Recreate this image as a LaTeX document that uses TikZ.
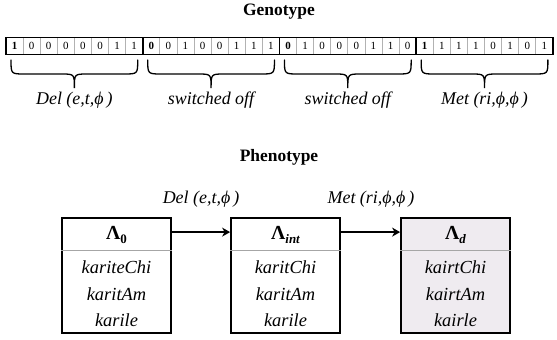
\documentclass[tikz,border=0pt]{standalone}
\usepackage{fontspec}
\setmainfont{Liberation Serif}
\usetikzlibrary{arrows.meta}
\definecolor{lav}{RGB}{239,235,240}
\begin{document}
\begin{tikzpicture}[x=1bp,y=-1bp,
  bitn/.style={inner sep=0pt, font=\fontsize{11}{11}\selectfont},
  lbl/.style={inner sep=0pt, font=\fontsize{18}{20}\selectfont\itshape},
  ttl/.style={inner sep=0pt, font=\fontsize{17.5}{20}\selectfont\bfseries},
  clsbox/.style={draw, line width=1.8bp, minimum width=109bp, minimum height=115bp, inner sep=0pt},
  hdr/.style={inner sep=0pt, font=\fontsize{20}{22}\selectfont\bfseries},
  row/.style={inner sep=0pt, font=\fontsize{18.5}{20}\selectfont\itshape},
  sep/.style={draw=black!35, line width=0.9bp},
  brc/.style={line width=1.3bp, line cap=round},
  arr/.style={line width=2bp, -{Stealth[length=8bp,width=9bp,inset=2.5bp]}}
]
\useasboundingbox (0,0) rectangle (557,339);
% titles
\node[ttl] (gt) at (279,12) {Genotype};
\node[ttl] (pt) at (279,157) {Phenotype};
% bit strip
\def\cw{17.09}
\foreach \i/\b in {1/1,2/0,3/0,4/0,5/0,6/0,7/1,8/1,
                   9/0,10/0,11/1,12/0,13/0,14/1,15/1,16/1,
                   17/0,18/1,19/0,20/0,21/0,22/1,23/1,24/0,
                   25/1,26/1,27/1,28/1,29/0,30/1,31/0,32/1}{
  \pgfmathtruncatemacro\m{mod(\i-1,8)}
  \node[bitn] (b\i) at ({6+\cw*(\i-0.5)},46) {\ifnum\m=0 \bfseries\fi\b};
  \ifnum\m>0
    \draw[draw=black!30, line width=0.7bp] ({6+\cw*(\i-1)},37.5) -- ({6+\cw*(\i-1)},54.5);
  \fi
}
\node[draw, line width=1.7bp, minimum width=547bp, minimum height=17bp, inner sep=0pt] (strip) at (279.5,46) {};
\foreach \g in {1,2,3}{
  \draw[line width=1.7bp] ({6+\cw*8*\g},37.5) -- ({6+\cw*8*\g},54.5);
}
% braces
\foreach \g/\t in {0/{{\itshape Del} (\textit{e},\textit{t},\textit{ϕ}\,)},
                   1/{switched off},
                   2/{switched off},
                   3/{{\itshape Met} (\textit{ri},\textit{ϕ},\textit{ϕ}\,)}}{
  \pgfmathsetmacro\xl{6+\cw*8*\g+5}
  \pgfmathsetmacro\xr{6+\cw*8*(\g+1)-5}
  \pgfmathsetmacro\xc{(\xl+\xr)/2}
  \draw[brc] (\xl,60) .. controls (\xl,74) .. (\xl+14,74) -- (\xc-13,74)
     .. controls (\xc,74) .. (\xc,88) .. controls (\xc,74) .. (\xc+13,74)
     -- (\xr-14,74) .. controls (\xr,74) .. (\xr,60);
  \node[lbl] (l\g) at (\xc,100) {\t};
}
% class boxes
\node[clsbox] (c1) at (116.5,275.5) {};
\node[clsbox] (c2) at (285.5,275.5) {};
\node[clsbox, fill=lav] (c3) at (455.5,275.5) {};
\foreach \c in {c1,c2,c3}{
  \draw[sep] ([yshift=-33bp]\c.north west) -- ([yshift=-33bp]\c.north east);
}
\node[hdr] (h1) at (116.5,235) {Λ\raisebox{-0.4ex}{\fontsize{13}{13}\selectfont\bfseries 0}};
\node[hdr] (h2) at (285.5,235) {Λ\raisebox{-0.4ex}{\fontsize{13}{13}\selectfont\bfseries\itshape int}};
\node[hdr] (h3) at (455.5,235) {Λ\raisebox{-0.4ex}{\fontsize{13}{13}\selectfont\bfseries\itshape d}};
\node[row] (r11) at (116.5,267) {kariteChi};
\node[row] (r12) at (116.5,294) {karitAm};
\node[row] (r13) at (116.5,320) {karile};
\node[row] (r21) at (285.5,267) {karitChi};
\node[row] (r22) at (285.5,294) {karitAm};
\node[row] (r23) at (285.5,320) {karile};
\node[row] (r31) at (455.5,267) {kairtChi};
\node[row] (r32) at (455.5,294) {kairtAm};
\node[row] (r33) at (455.5,320) {kairle};
% transitions
\draw[arr] ([yshift=-15bp]c1.north east) -- ([yshift=-15bp]c2.north west);
\draw[arr] ([yshift=-15bp]c2.north east) -- ([yshift=-15bp]c3.north west);
\node[lbl] (t1) at (201,199) {{\itshape Del} (\textit{e},\textit{t},\textit{ϕ}\,)};
\node[lbl] (t2) at (371,199) {{\itshape Met} (\textit{ri},\textit{ϕ},\textit{ϕ}\,)};
\end{tikzpicture}
\end{document}
